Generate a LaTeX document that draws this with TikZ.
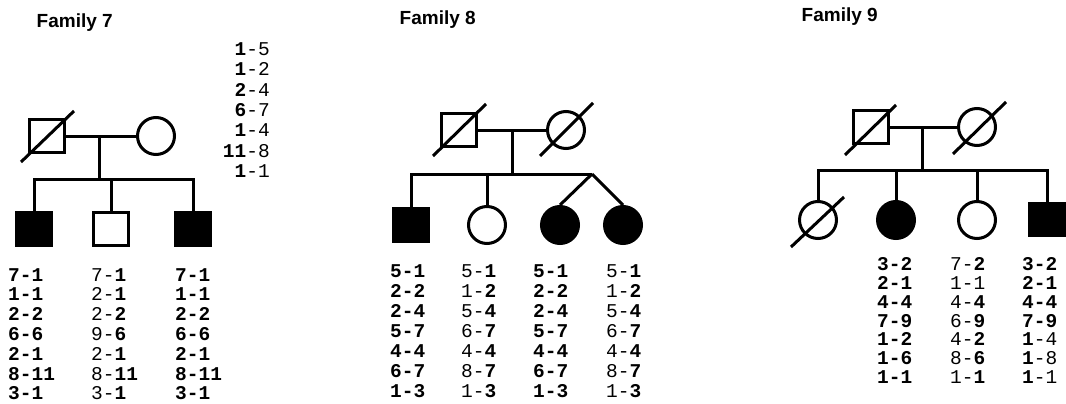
\documentclass[tikz,border=0pt]{standalone}
\usepackage{fontspec}
\newfontfamily\titlefont{Liberation Sans}
\newfontfamily\gfont{Liberation Mono}
\newcommand\bd[1]{\textbf{#1}}
\usetikzlibrary{calc}
\newcommand\gcol[5]{%
  \foreach \t [count=\i from 0] in {#5}
    \node[gt, anchor=base west] (#1-\i) at ({#2},{#3+\i*#4}) {\t};}
\begin{document}
\begin{tikzpicture}[x=1pt,y=-1pt,
  pl/.style={line width=3pt},
  male/.style={draw, line width=3pt, rectangle, minimum width=35pt, minimum height=32.5pt, inner sep=0pt},
  female/.style={draw, line width=3pt, circle, minimum size=37pt, inner sep=0pt},
  aff/.style={fill=black},
  ttl/.style={font=\titlefont\bfseries\fontsize{19}{22}\selectfont, anchor=base west, inner sep=0pt},
  gt/.style={font=\gfont\fontsize{19.5}{20}\selectfont, inner sep=0pt}]
\useasboundingbox (0,0) rectangle (1066,404);

% ---------- Family 7 ----------
\node[ttl] (t7) at (36.5,27.3) {Family 7};
\node[male] (f7f) at (47,136) {};
\node[female] (f7m) at (156,136) {};
\draw[pl] ($(f7f)+(-26,26)$) -- ($(f7f)+(27,-25)$);
\draw[pl] (f7f.east) -- (f7m.west);
\coordinate (f7mid) at (99,136);
\coordinate (f7sib) at (99,179);
\draw[pl] (f7mid) -- (f7sib);
\node[male,aff] (f7c1) at (34,229) {};
\node[male] (f7c2) at (111,229) {};
\node[male,aff] (f7c3) at (193,229) {};
\draw[pl] (f7c1.north) -- (f7c1.north |- f7sib) -- (f7c3.north |- f7sib) -- (f7c3.north);
\draw[pl] (f7c2.north) -- (f7c2.north |- f7sib);
\foreach \t [count=\i from 0] in {\bd{1}-5,\bd{1}-2,\bd{2}-4,\bd{6}-7,\bd{1}-4,\bd{11}-8,\bd{1}-1}
  \node[gt, anchor=base east] (f7r-\i) at (270,{55.7+\i*20.3}) {\t};
\gcol{f7a}{8}{281}{19.8}{\bd{7-1},\bd{1-1},\bd{2-2},\bd{6-6},\bd{2-1},\bd{8-11},\bd{3-1}}
\gcol{f7b}{91}{281}{19.8}{7-\bd{1},2-\bd{1},2-\bd{2},9-\bd{6},2-\bd{1},8-\bd{11},3-\bd{1}}
\gcol{f7c}{175}{281}{19.8}{\bd{7-1},\bd{1-1},\bd{2-2},\bd{6-6},\bd{2-1},\bd{8-11},\bd{3-1}}

% ---------- Family 8 ----------
\node[ttl] (t8) at (399.5,25) {Family 8};
\node[male] (f8f) at (459,130) {};
\node[female] (f8m) at (566,130) {};
\draw[pl] ($(f8f)+(-26,26)$) -- ($(f8f)+(27,-26)$);
\draw[pl] ($(f8m)+(-26,26)$) -- ($(f8m)+(27,-27)$);
\draw[pl] (f8f.east) -- (f8m.west);
\coordinate (f8mid) at (512,130);
\coordinate (f8sib) at (512,174);
\coordinate (f8apex) at (592,174);
\draw[pl] (f8mid) -- (f8sib);
\node[male,aff] (f8c1) at (411,225) {};
\node[female] (f8c2) at (487,225) {};
\node[female,aff] (f8c3) at (560,225) {};
\node[female,aff] (f8c4) at (623,225) {};
\draw[pl] (f8c1.north) -- (f8c1.north |- f8sib) -- (f8apex);
\draw[pl] (f8c2.north) -- (f8c2.north |- f8sib);
\draw[pl] (f8apex) -- (f8c3.north);
\draw[pl] (f8apex) -- (f8c4.north);
\gcol{f8a}{390}{277.3}{20.1}{\bd{5-1},\bd{2-2},\bd{2-4},\bd{5-7},\bd{4-4},\bd{6-7},\bd{1-3}}
\gcol{f8b}{461}{277.3}{20.1}{5-\bd{1},1-\bd{2},5-\bd{4},6-\bd{7},4-\bd{4},8-\bd{7},1-\bd{3}}
\gcol{f8c}{533}{277.3}{20.1}{\bd{5-1},\bd{2-2},\bd{2-4},\bd{5-7},\bd{4-4},\bd{6-7},\bd{1-3}}
\gcol{f8d}{606}{277.3}{20.1}{5-\bd{1},1-\bd{2},5-\bd{4},6-\bd{7},4-\bd{4},8-\bd{7},1-\bd{3}}

% ---------- Family 9 ----------
\node[ttl] (t9) at (801.5,21.7) {Family 9};
\node[male] (f9f) at (871,127) {};
\node[female] (f9m) at (977,127) {};
\draw[pl] ($(f9f)+(-26,28)$) -- ($(f9f)+(25,-22)$);
\draw[pl] ($(f9m)+(-24,27)$) -- ($(f9m)+(29,-25)$);
\draw[pl] (f9f.east) -- (f9m.west);
\coordinate (f9mid) at (922,127);
\coordinate (f9sib) at (922,170);
\draw[pl] (f9mid) -- (f9sib);
\node[female] (f9c1) at (818,220) {};
\node[female,aff] (f9c2) at (896,220) {};
\node[female] (f9c3) at (977,220) {};
\node[male,aff] (f9c4) at (1047,219.5) {};
\draw[pl] ($(f9c1)+(-27,27)$) -- ($(f9c1)+(26,-23)$);
\draw[pl] (f9c1.north) -- (f9c1.north |- f9sib) -- (f9c4.north |- f9sib) -- (f9c4.north);
\draw[pl] (f9c2.north) -- (f9c2.north |- f9sib);
\draw[pl] (f9c3.north) -- (f9c3.north |- f9sib);
\gcol{f9a}{877}{270.7}{18.8}{\bd{3-2},\bd{2-1},\bd{4-4},\bd{7-9},\bd{1-2},\bd{1-6},\bd{1-1}}
\gcol{f9b}{950}{270.7}{18.8}{7-\bd{2},1-1,4-\bd{4},6-\bd{9},4-\bd{2},8-\bd{6},1-\bd{1}}
\gcol{f9c}{1022}{270.7}{18.8}{\bd{3-2},\bd{2-1},\bd{4-4},\bd{7-9},\bd{1}-4,\bd{1}-8,\bd{1}-1}
\end{tikzpicture}
\end{document}
